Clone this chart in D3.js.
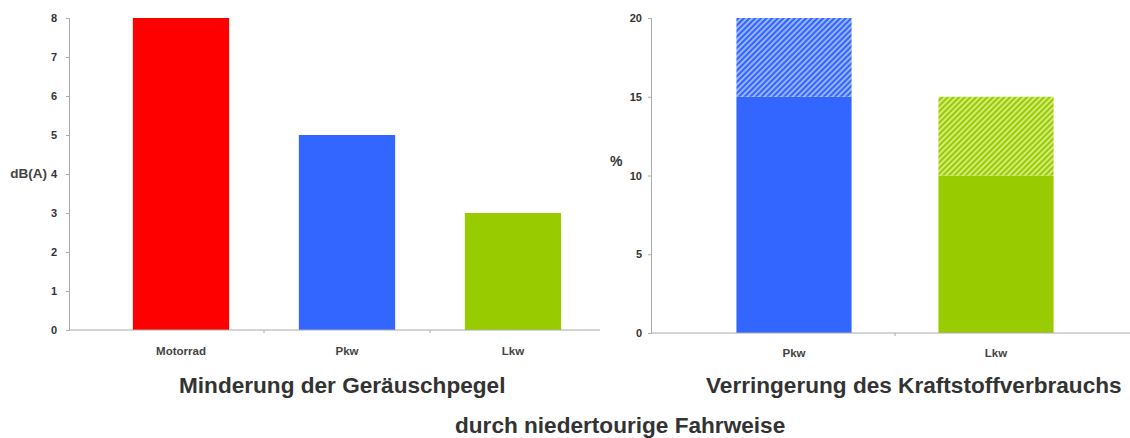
<!DOCTYPE html>
<html><head><meta charset="utf-8">
<script src="https://cdn.jsdelivr.net/npm/d3@7"></script>
<style>body{margin:0;background:#fff}svg{display:block}</style>
</head><body>
<svg id="c" width="1130" height="438"></svg>
<script>
// Left chart data
const noiseCategories = ["Motorrad", "Pkw", "Lkw"];
const noiseValues = [8, 5, 3];
const noiseColors = ["#ff0000", "#3366ff", "#99cc00"];
const noiseTicks = [0, 1, 2, 3, 4, 5, 6, 7, 8];
// Right chart data
const fuelCategories = ["Pkw", "Lkw"];
const fuelBase = [15, 10];
const fuelExtra = [5, 5];
const fuelColors = ["#3366ff", "#99cc00"];
const fuelHatch = ["#a8c0ff", "#dcf090"];
const fuelTicks = [0, 5, 10, 15, 20];

const svg = d3.select("#c");
const font = "Liberation Sans, Arial, sans-serif";
const axisColor = "#aaaaaa";

// defs for hatch
const defs = svg.append("defs");
fuelColors.forEach((c, i) => {
  const p = defs.append("pattern").attr("id", "hatch" + i)
    .attr("patternUnits", "userSpaceOnUse").attr("width", 4).attr("height", 4)
    .attr("patternTransform", "rotate(45)");
  p.append("rect").attr("width", 4).attr("height", 4).attr("fill", c);
  p.append("rect").attr("x", 0).attr("width", 1.7).attr("height", 4).attr("fill", fuelHatch[i]);
});

const styleTicks = ax => {
  ax.select(".domain").attr("stroke", axisColor);
  ax.selectAll(".tick line").attr("stroke", axisColor);
  ax.selectAll("text").attr("font-family", font).attr("font-size", 11).attr("font-weight", "bold").attr("fill", "#333");
};

// ---------- Left chart ----------
const x1 = d3.scaleBand().domain(noiseCategories).range([98, 596]).paddingInner(0.42).paddingOuter(0.21);
const y1 = d3.scaleLinear().domain([0, 8]).range([330, 18]);

const g1 = svg.append("g");
g1.selectAll("rect.bar").data(noiseValues).join("rect")
  .attr("x", (d, i) => x1(noiseCategories[i]))
  .attr("width", x1.bandwidth())
  .attr("y", d => y1(d))
  .attr("height", d => y1(0) - y1(d))
  .attr("fill", (d, i) => noiseColors[i]);

const ax1 = g1.append("g").attr("transform", "translate(69,0)")
  .call(d3.axisLeft(y1).tickValues(noiseTicks).tickSize(3).tickPadding(9));
styleTicks(ax1);

g1.append("line").attr("x1", 69).attr("x2", 600).attr("y1", y1(0)).attr("y2", y1(0)).attr("stroke", axisColor);
const bounds1 = noiseCategories.slice(1).map(c => x1(c) - x1.step() * x1.paddingInner() / 2);
g1.selectAll("line.bt").data(bounds1).join("line")
  .attr("x1", d => d).attr("x2", d => d).attr("y1", y1(0)).attr("y2", y1(0) + 3).attr("stroke", axisColor);
g1.selectAll("text.cat").data(noiseCategories).join("text")
  .attr("x", d => x1(d) + x1.bandwidth() / 2).attr("y", 355)
  .attr("text-anchor", "middle").attr("font-family", font).attr("font-size", 11.5).attr("font-weight", "bold").attr("fill", "#444")
  .text(d => d);
g1.append("text").attr("x", 47).attr("y", y1(4) + 4).attr("text-anchor", "end")
  .attr("font-family", font).attr("font-size", 13.5).attr("font-weight", "bold").attr("fill", "#444").text("dB(A)");

// ---------- Right chart ----------
const x2 = d3.scaleBand().domain(fuelCategories).range([693, 1097]).paddingInner(0.43).paddingOuter(0.215);
const y2 = d3.scaleLinear().domain([0, 20]).range([333, 18]);
const g2 = svg.append("g");
g2.selectAll("rect.base").data(fuelBase).join("rect")
  .attr("x", (d, i) => x2(fuelCategories[i])).attr("width", x2.bandwidth())
  .attr("y", d => y2(d)).attr("height", d => y2(0) - y2(d))
  .attr("fill", (d, i) => fuelColors[i]);
g2.selectAll("rect.extra").data(fuelExtra).join("rect")
  .attr("x", (d, i) => x2(fuelCategories[i])).attr("width", x2.bandwidth())
  .attr("y", (d, i) => y2(fuelBase[i] + d)).attr("height", (d, i) => y2(fuelBase[i]) - y2(fuelBase[i] + d))
  .attr("fill", (d, i) => "url(#hatch" + i + ")");

const ax2 = g2.append("g").attr("transform", "translate(651,0)")
  .call(d3.axisLeft(y2).tickValues(fuelTicks).tickSize(3).tickPadding(6));
styleTicks(ax2);
g2.append("line").attr("x1", 651).attr("x2", 1130).attr("y1", y2(0)).attr("y2", y2(0)).attr("stroke", axisColor);
const bounds2 = fuelCategories.slice(1).map(c => x2(c) - x2.step() * x2.paddingInner() / 2);
g2.selectAll("line.bt").data(bounds2).join("line")
  .attr("x1", d => d).attr("x2", d => d).attr("y1", y2(0)).attr("y2", y2(0) + 3).attr("stroke", axisColor);
g2.selectAll("text.cat").data(fuelCategories).join("text")
  .attr("x", d => x2(d) + x2.bandwidth() / 2).attr("y", 357)
  .attr("text-anchor", "middle").attr("font-family", font).attr("font-size", 11.5).attr("font-weight", "bold").attr("fill", "#444")
  .text(d => d);
g2.append("text").attr("x", 610).attr("y", 166).attr("text-anchor", "start")
  .attr("font-family", font).attr("font-size", 14).attr("font-weight", "bold").attr("fill", "#333").text("%");

// ---------- Titles ----------
const titleStyle = sel => sel.attr("font-family", font).attr("font-size", 22.6).attr("font-weight", "bold").attr("fill", "#333").attr("text-anchor", "start");
svg.append("text").attr("x", 179).attr("y", 393).call(titleStyle).text("Minderung der Geräuschpegel");
svg.append("text").attr("x", 706).attr("y", 393).call(titleStyle).text("Verringerung des Kraftstoffverbrauchs");
svg.append("text").attr("x", 455).attr("y", 433).call(titleStyle).text("durch niedertourige Fahrweise");
</script>
</body></html>
